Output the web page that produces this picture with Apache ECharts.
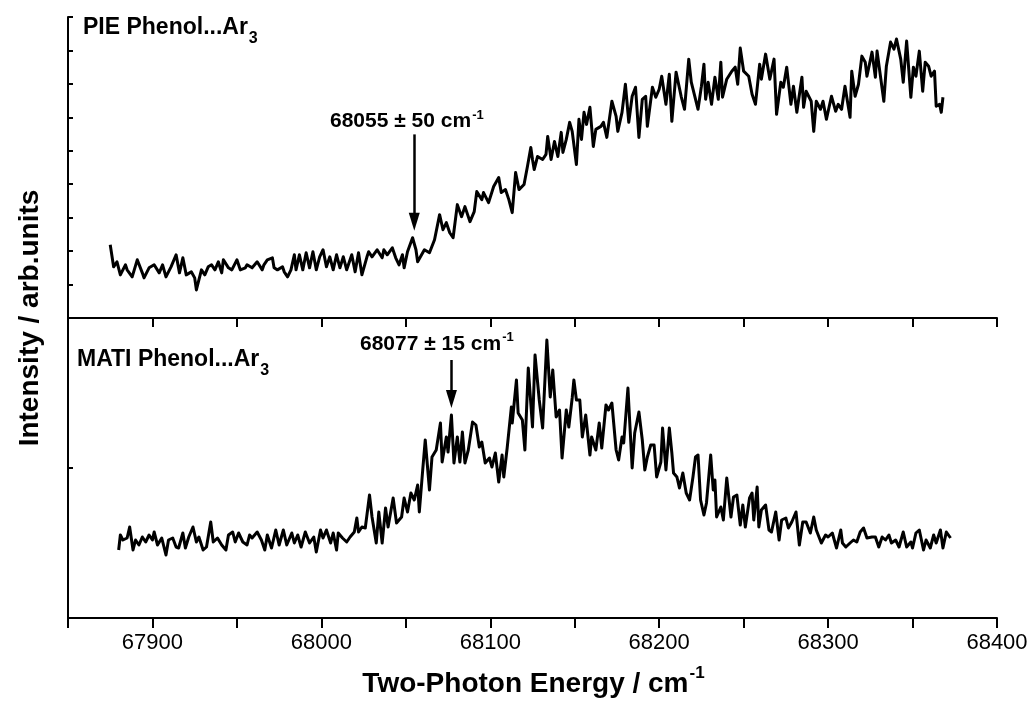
<!DOCTYPE html>
<html>
<head>
<meta charset="utf-8">
<title>Phenol...Ar3 PIE / MATI</title>
<script src="https://cdn.jsdelivr.net/npm/echarts@6/dist/echarts.min.js"></script>
<style>
  html, body { margin: 0; padding: 0; background: #fff; }
  #chart { width: 1034px; height: 707px; }
</style>
</head>
<body>
<div id="chart"></div>
<script>
// PIE spectrum: [two-photon energy / cm-1, intensity (arb.)]
const pieSpectrum = [
  [67875,219],[67877,153],[67879,168],[67881,129],[67884,159],[67885,144],[67888,123],[67891,174],[67894,135],[67895,120],
  [67898,150],[67901,159],[67904,135],[67906,159],[67908,123],[67911,153],[67914,189],[67916,135],[67918,180],[67920,129],
  [67923,138],[67925,120],[67926,84],[67929,144],[67931,129],[67933,153],[67935,159],[67937,144],[67939,168],[67941,135],
  [67942,174],[67945,150],[67947,144],[67950,174],[67952,144],[67955,150],[67956,159],[67959,150],[67962,168],[67965,144],
  [67966,159],[67968,174],[67971,180],[67972,150],[67974,144],[67977,153],[67978,138],[67980,123],[67982,144],[67984,189],
  [67985,144],[67987,189],[67989,144],[67991,195],[67993,150],[67995,198],[67997,144],[67999,183],[68001,204],[68003,153],
  [68005,183],[68007,144],[68009,189],[68011,150],[68013,183],[68015,144],[68018,189],[68020,138],[68022,195],[68024,129],
  [68027,183],[68028,198],[68030,183],[68033,204],[68036,180],[68037,204],[68039,189],[68042,210],[68044,180],[68046,159],
  [68048,189],[68049,150],[68051,198],[68054,240],[68056,204],[68057,168],[68061,204],[68064,195],[68067,234],[68070,309],
  [68072,264],[68074,285],[68076,255],[68078,240],[68080.5,339],[68083,303],[68085,333],[68088,288],[68090.5,318],[68092,378],
  [68095,354],[68096,375],[68099,345],[68102,393],[68105,420],[68106.5,375],[68109,384],[68111,354],[68113,315],[68115,435],
  [68117,384],[68120,399],[68122,453],[68124,510],[68125,474],[68126,444],[68128,483],[68131,474],[68133,489],[68134,543],
  [68136,474],[68138,528],[68140,483],[68142,555],[68143,495],[68145,534],[68147,585],[68148.5,558],[68151,459],[68152.5,594],
  [68154,534],[68155.5,615],[68157,579],[68159,630],[68161,513],[68162.5,564],[68165.5,573],[68167,585],[68169,540],[68172,648],
  [68174.5,603],[68175.5,558],[68178,615],[68180,699],[68182,585],[68184,663],[68186,690],[68188,540],[68190,654],[68192,663],
  [68193,573],[68196,690],[68198,660],[68200,684],[68201.5,723],[68204,639],[68206,729],[68207.5,588],[68210,735],[68213,663],
  [68215,624],[68217.5,774],[68219,705],[68223,624],[68225,693],[68226.5,759],[68227.5,654],[68229,705],[68231,639],[68233,720],
  [68235,654],[68236.5,765],[68237.5,660],[68240,714],[68243,738],[68245,750],[68246.5,699],[68248,807],[68250,738],[68253,723],
  [68255,669],[68257,639],[68259.5,759],[68260.5,714],[68263,789],[68265.5,714],[68268,774],[68269.5,609],[68272,705],[68273.5,690],
  [68275.5,750],[68278,639],[68279.5,693],[68281.5,615],[68284.5,720],[68285.5,630],[68287,678],[68290,648],[68291.5,558],[68293,648],
  [68295.5,624],[68297,648],[68299,594],[68302,663],[68304.5,618],[68306,639],[68308,624],[68310,693],[68313,600],[68314,738],
  [68316,663],[68318,699],[68320,783],[68322,765],[68323,723],[68326,795],[68328,720],[68329,798],[68333,648],[68334.5,753],
  [68337,825],[68339,804],[68340.5,834],[68343,774],[68344.5,705],[68346.5,828],[68349,660],[68350.5,750],[68352,723],[68354,798],
  [68356,678],[68357.5,765],[68359.5,753],[68361,723],[68363,738],[68364,633],[68366,639],[68367,615],[68368,660]
];

// MATI spectrum: [two-photon energy / cm-1, intensity (arb.)]
const matiSpectrum = [
  [67880,68],[67881,83],[67882.5,78],[67885,80],[67886.5,91],[67888.5,68],[67890,78],[67892,73],[67894,81],[67896,76],
  [67898,83],[67900,78],[67901,86],[67903,73],[67905.5,80],[67908,63],[67909.5,78],[67912,80],[67914,71],[67915.5,70],
  [67918,85],[67919.5,70],[67921.5,81],[67924,91],[67926,76],[67927.5,81],[67930,68],[67932,71],[67934.5,96],[67936,76],
  [67938.5,80],[67941,73],[67943.5,68],[67945,83],[67947.5,86],[67949,76],[67951,85],[67953.5,76],[67956,73],[67957.5,83],
  [67959,80],[67962,86],[67964.5,78],[67966.5,68],[67968,83],[67970.5,70],[67973,88],[67975,73],[67977.5,88],[67979.5,73],
  [67982.5,85],[67984,75],[67986,83],[67988,71],[67990.5,86],[67993,75],[67995.5,81],[67997,66],[67999.5,88],[68001,80],
  [68003,88],[68005.5,75],[68007,85],[68009,68],[68010,85],[68012.5,80],[68015,76],[68017,81],[68019.5,86],[68021,100],
  [68022,86],[68024,91],[68026,90],[68028.5,123],[68030,101],[68032.5,75],[68034,106],[68036,75],[68038,110],[68039.5,91],
  [68042.5,120],[68044.5,95],[68047.5,101],[68049,120],[68051,106],[68053,125],[68055,118],[68057,133],[68058,106],[68060,148],
  [68061.5,178],[68064,128],[68065.5,161],[68068,168],[68070.5,195],[68071.5,156],[68074,181],[68075,166],[68077,203],[68078.5,155],
  [68080.5,181],[68082,156],[68083.5,186],[68085,155],[68087,168],[68089.5,196],[68091.5,193],[68093.5,171],[68095,176],[68097,155],
  [68099.5,160],[68101,151],[68103,165],[68105,136],[68107,163],[68108,141],[68110,170],[68112.5,211],[68113,195],[68115.5,238],
  [68116.5,205],[68119,198],[68120.5,168],[68122.5,250],[68125,191],[68126.5,263],[68129,218],[68131,190],[68133.5,278],[68135.5,221],
  [68137,248],[68139,201],[68141,208],[68142.5,160],[68145,208],[68146.5,191],[68148.5,220],[68149.5,238],[68151,218],[68153,218],
  [68154.5,181],[68156.5,203],[68159,163],[68160,181],[68162.5,168],[68164.5,195],[68166,170],[68168.5,213],[68170,208],[68172,215],
  [68174.5,168],[68176,158],[68178,181],[68179,175],[68181.5,230],[68184,150],[68185.5,185],[68188,206],[68190,178],[68191.5,148],
  [68193,161],[68195,173],[68197,173],[68198.5,141],[68201,156],[68202,190],[68204,148],[68206,190],[68207.5,165],[68208.5,145],
  [68210.5,141],[68212,130],[68214,145],[68216,125],[68218,118],[68220,141],[68221.5,161],[68223,163],[68224.5,118],[68226.5,103],
  [68228,115],[68230.5,163],[68232,128],[68233,138],[68234,101],[68236.5,111],[68238,98],[68240,140],[68242.5,101],[68244,121],
  [68246,123],[68248,93],[68249.5,113],[68251,91],[68253.5,120],[68255,125],[68256,98],[68258,131],[68259,91],[68260.5,108],
  [68263,113],[68265,88],[68266.5,86],[68269,106],[68271,78],[68272.5,98],[68275,100],[68276.5,90],[68278.5,96],[68281,106],
  [68283,73],[68285,96],[68287,96],[68289.5,85],[68291.5,101],[68293,88],[68296,75],[68298.5,83],[68300,81],[68302.5,85],
  [68305,70],[68307.5,88],[68308.5,75],[68310.5,71],[68313,75],[68315,78],[68317,76],[68319,86],[68321,90],[68323,80],
  [68326,81],[68328,81],[68330,71],[68332,81],[68334,78],[68336,83],[68337.5,75],[68340,78],[68342,71],[68344.5,86],
  [68346.5,71],[68349,76],[68350,70],[68352,85],[68354,88],[68356.5,68],[68358,78],[68360.5,70],[68362.5,83],[68364,75],
  [68366.5,88],[68368,70],[68370,86],[68372.5,80]
];

// ionisation onsets marked with arrows
const pieOnset = 68055;
const matiOnset = 68077;

const panelNames = ['PIE Phenol...Ar', 'MATI Phenol...Ar'];
const onsetLabels = ['68055 \u00b1 50 cm', '68077 \u00b1 15 cm'];

const FONT = '"Liberation Sans", Arial, Helvetica, sans-serif';
const chart = echarts.init(document.getElementById('chart'));

// width of a string, used to place sub/superscripts after it
function textWidth(str, font) {
  const ctx = document.createElement('canvas').getContext('2d');
  ctx.font = font;
  return ctx.measureText(str).width;
}

function txt(x, y, str, size, extra) {
  return Object.assign({
    type: 'text',
    x: x,
    y: y,
    silent: true,
    style: {
      text: str,
      font: 'bold ' + size + 'px ' + FONT,
      fill: '#000',
      align: 'left',
      verticalAlign: 'middle'
    }
  }, extra || {});
}

// text followed by a small sub- or superscript
function withIndex(x, y, str, size, idx, idxSize, dy) {
  const w = textWidth(str, 'bold ' + size + 'px ' + FONT);
  return [txt(x, y, str, size), txt(x + w + 1, y + dy, idx, idxSize)];
}

const xTitle = 'Two-Photon Energy / cm';
const xTitleW = textWidth(xTitle, 'bold 28px ' + FONT) + textWidth('-1', 'bold 17px ' + FONT);

const axisStyle = { color: '#000', width: 2 };

function arrow(x, yFrom, yTo) {
  return {
    silent: true,
    animation: false,
    symbol: ['none', 'triangle'],
    symbolSize: [11, 18],
    lineStyle: { color: '#000', width: 2.5, type: 'solid' },
    itemStyle: { color: '#000' },
    label: { show: false },
    emphasis: { disabled: true },
    data: [[{ coord: [x, yFrom] }, { coord: [x, yTo] }]]
  };
}

const option = {
  animation: false,
  backgroundColor: '#fff',
  grid: [
    { left: 68, top: 17, width: 929, height: 301 },
    { left: 68, top: 318, width: 929, height: 300 }
  ],
  xAxis: [
    {
      gridIndex: 0, type: 'value', min: 67850, max: 68400, interval: 50,
      axisLine: { lineStyle: axisStyle },
      axisTick: { length: 9, lineStyle: axisStyle },
      axisLabel: { show: false },
      splitLine: { show: false }
    },
    {
      gridIndex: 1, type: 'value', min: 67850, max: 68400, interval: 50,
      axisLine: { lineStyle: axisStyle },
      axisTick: { length: 10, lineStyle: axisStyle },
      axisLabel: {
        color: '#000', fontSize: 22, fontFamily: FONT, margin: 14,
        formatter: function (v) { return v % 100 === 0 ? String(v) : ''; }
      },
      splitLine: { show: false }
    }
  ],
  yAxis: [
    {
      gridIndex: 0, type: 'value', min: 0, max: 900, interval: 100,
      axisLine: { show: true, lineStyle: axisStyle },
      axisTick: { show: true, inside: true, length: 5, lineStyle: axisStyle },
      axisLabel: { show: false },
      splitLine: { show: false }
    },
    {
      gridIndex: 1, type: 'value', min: 0, max: 300, interval: 150,
      axisLine: { show: true, lineStyle: axisStyle },
      axisTick: { show: true, inside: true, length: 5, lineStyle: axisStyle },
      axisLabel: { show: false },
      splitLine: { show: false }
    }
  ],
  series: [
    {
      name: 'PIE', type: 'line', xAxisIndex: 0, yAxisIndex: 0,
      data: pieSpectrum, showSymbol: false, silent: true,
      lineStyle: { color: '#000', width: 3, join: 'round' },
      markLine: arrow(pieOnset, 549, 288)
    },
    {
      name: 'MATI', type: 'line', xAxisIndex: 1, yAxisIndex: 1,
      data: matiSpectrum, showSymbol: false, silent: true,
      lineStyle: { color: '#000', width: 3, join: 'round' },
      markLine: arrow(matiOnset, 258, 219)
    }
  ],
  graphic: [].concat(
    withIndex(83, 27.5, panelNames[0], 23, '3', 16, 11),
    withIndex(77, 359.5, panelNames[1], 23, '3', 16, 11),
    withIndex(330, 121.5, onsetLabels[0], 21, '-1', 13, -6),
    withIndex(360, 344.5, onsetLabels[1], 21, '-1', 13, -7),
    withIndex(533 - xTitleW / 2, 684, xTitle, 28, '-1', 17, -11),
    [txt(30, 318, 'Intensity / arb.units', 28, {
      rotation: Math.PI / 2,
      style: {
        text: 'Intensity / arb.units',
        font: 'bold 28px ' + FONT,
        fill: '#000',
        align: 'center',
        verticalAlign: 'middle'
      }
    })]
  )
};

chart.setOption(option);
window.addEventListener('resize', function () { chart.resize(); });
</script>
</body>
</html>
